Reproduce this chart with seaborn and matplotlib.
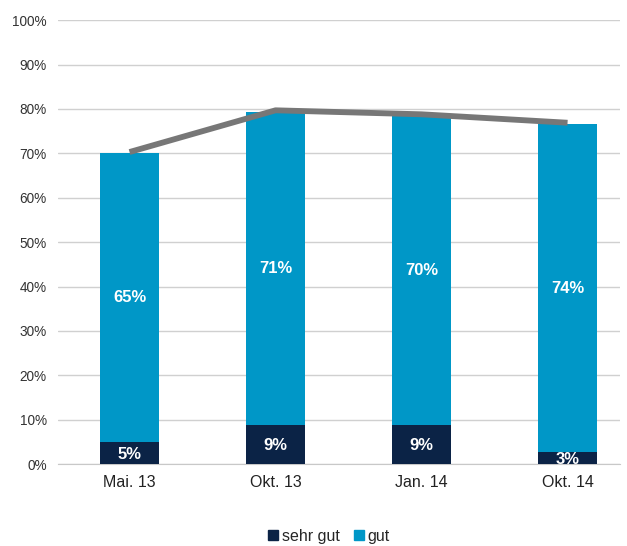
import numpy as np
import pandas as pd
import matplotlib
matplotlib.use("Agg")
import matplotlib.pyplot as plt
import seaborn as sns
from matplotlib.patches import Patch

categories = ["Mai. 13", "Okt. 13", "Jan. 14", "Okt. 14"]
sehr_gut = [5.0, 8.8, 8.8, 2.7]
gut = [65.0, 70.6, 69.7, 73.9]
sehr_gut_labels = ["5%", "9%", "9%", "3%"]
gut_labels = ["65%", "71%", "70%", "74%"]

dark = "#0b2346"
light = "#0097c7"
grey = "#777777"

df = pd.DataFrame({"kat": categories, "sehr_gut": sehr_gut, "gut": gut})
df["gesamt"] = df["sehr_gut"] + df["gut"]

sns.set_style("white")
plt.rcParams["font.family"] = ["Liberation Sans", "DejaVu Sans"]

fig = plt.figure(figsize=(6.27, 5.46), dpi=100)
ax = fig.add_axes([0.0925, 0.150, 0.8965, 0.813])

sns.barplot(data=df, x="kat", y="gesamt", color=light, saturation=1, width=0.4,
            linewidth=0, ax=ax, zorder=2)
sns.barplot(data=df, x="kat", y="sehr_gut", color=dark, saturation=1, width=0.4,
            linewidth=0, ax=ax, zorder=3)

x = np.arange(len(categories))
ax.plot(x, df["gesamt"] + 0.3, color=grey, lw=4.2, zorder=4, solid_capstyle="butt")

for i in range(len(categories)):
    ax.text(i, df["sehr_gut"][i] / 2 - 0.3, sehr_gut_labels[i], ha="center", va="center",
            color="white", fontsize=12, fontweight="bold", zorder=5)
    ax.text(i, df["sehr_gut"][i] + df["gut"][i] / 2, gut_labels[i], ha="center", va="center",
            color="white", fontsize=12, fontweight="bold", zorder=5)

ax.set_ylim(0, 100)
ax.set_xlim(-0.49, 3.36)
ax.set_yticks(range(0, 101, 10))
ax.set_yticklabels([f"{v}%" for v in range(0, 101, 10)], fontsize=9.8, color="#333333")
ax.tick_params(axis="x", labelsize=11.5, colors="#222222", length=0, pad=8)
ax.tick_params(axis="y", length=0, pad=8)
ax.set_xlabel("")
ax.set_ylabel("")
ax.yaxis.grid(True, color="#d0d0d0", lw=1)
ax.set_axisbelow(True)
for s in ["left", "right", "top"]:
    ax.spines[s].set_visible(False)
ax.spines["bottom"].set_color("#c8c8c8")

handles = [Patch(color=dark, label="sehr gut"), Patch(color=light, label="gut")]
fig.legend(handles=handles, loc="lower center", bbox_to_anchor=(0.525, -0.022), ncol=2,
           frameon=False, fontsize=11.5, handlelength=0.6, handleheight=0.6,
           handletextpad=0.25, columnspacing=0.9)

fig.savefig("out.png", dpi=100)
